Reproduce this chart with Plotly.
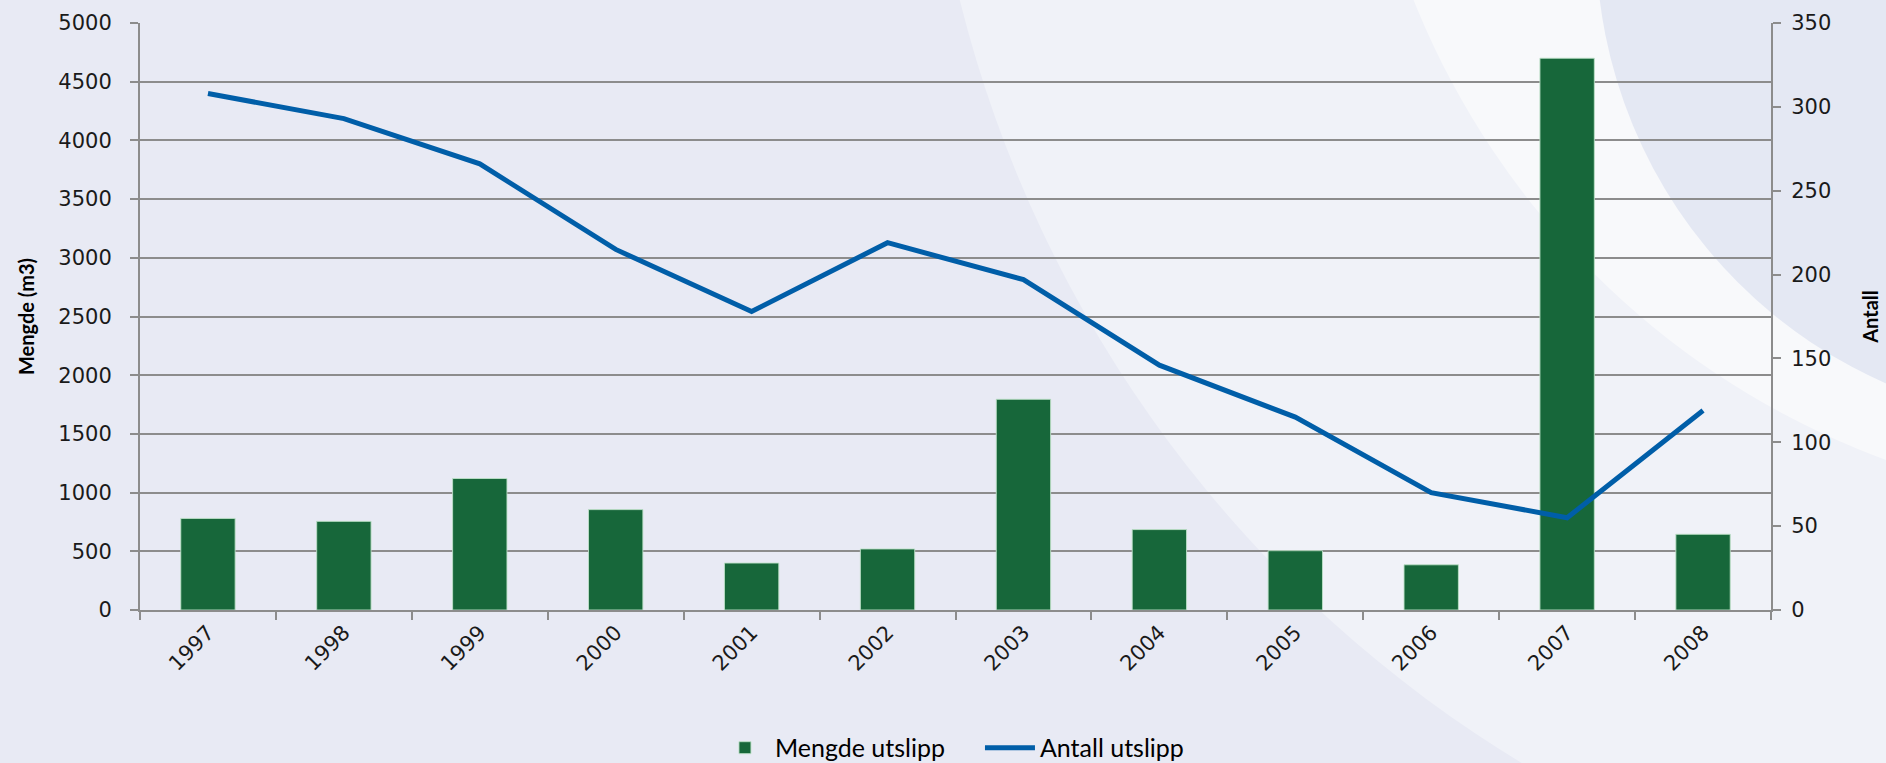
import plotly.graph_objects as go

years = ["1997", "1998", "1999", "2000", "2001", "2002", "2003", "2004", "2005", "2006", "2007", "2008"]
mengde = [780, 755, 1120, 855, 400, 520, 1795, 685, 505, 385, 4700, 645]
antall = [308, 293, 266, 215, 178, 219, 197, 146, 115, 70, 55, 119]

W, H = 1886, 763
ML, MR, MT, MB = 140, 115, 23, 153
PW, PH = W - ML - MR, H - MT - MB


def px(x):
    return (x - ML) / PW


def py(y):
    return (H - MB - y) / PH


def circle(cx, cy, r, color, opacity=1.0):
    return dict(type="circle", xref="paper", yref="paper", layer="below",
                x0=px(cx - r), x1=px(cx + r), y0=py(cy + r), y1=py(cy - r),
                fillcolor=color, opacity=opacity, line=dict(width=0))


fig = go.Figure()
fig.add_trace(go.Bar(
    x=years, y=mengde, name="Mengde utslipp", width=0.4,
    marker=dict(color="#17673a", line=dict(color="rgba(190,225,200,0.9)", width=1)),
    yaxis="y",
))
fig.add_trace(go.Scatter(
    x=years, y=antall, name="Antall utslipp", mode="lines",
    line=dict(color="#005ea8", width=5),
    yaxis="y2",
))

tickfont = dict(family="DejaVu Sans, Verdana, sans-serif", size=21, color="#1a1a1a")
titlefont = dict(family="Lato, sans-serif", size=20, color="#000000", weight="bold")

shapes = [
    circle(2166, -300, 1243, "#f0f2f8"),
    circle(2166, -300, 810, "#f8f9fb"),
    circle(2080, -60, 484, "#e4e8f3"),
]

fig.update_layout(
    width=W, height=H,
    margin=dict(l=ML, r=MR, t=MT, b=MB, autoexpand=False),
    paper_bgcolor="#e8eaf4",
    plot_bgcolor="rgba(0,0,0,0)",
    shapes=shapes,
    showlegend=True,
    legend=dict(orientation="h", x=0.515, xanchor="center", y=-0.235, yanchor="middle",
                font=dict(family="Lato, sans-serif", size=25, color="#000"),
                bgcolor="rgba(0,0,0,0)", itemwidth=50, entrywidth=200, tracegroupgap=0),
    xaxis=dict(
        type="category", tickangle=-45, tickfont=tickfont, automargin=False,
        showline=True, linecolor="#8c8c8c", linewidth=2,
        ticks="outside", ticklen=8, tickcolor="#8c8c8c", tickwidth=2,
        tickson="boundaries", showgrid=False,
    ),
    yaxis=dict(
        range=[0, 5000], dtick=500, tickfont=tickfont, automargin=False,
        showline=True, linecolor="#8c8c8c", linewidth=2,
        ticks="outside", ticklen=8, tickcolor="#8c8c8c", tickwidth=2, ticklabelstandoff=14,
        showgrid=True, gridcolor="#8c8c8c", gridwidth=1.6, zeroline=False,
        title=dict(text="Mengde (m3)", font=titlefont, standoff=18),
    ),
    yaxis2=dict(
        range=[0, 350], dtick=50, tickfont=tickfont, overlaying="y", side="right",
        automargin=False,
        showline=True, linecolor="#8c8c8c", linewidth=2,
        ticks="outside", ticklen=8, tickcolor="#8c8c8c", tickwidth=2, ticklabelstandoff=6,
        showgrid=False, zeroline=False,
        title=dict(text="Antall", font=titlefont, standoff=34),
    ),
)

fig.write_html("out.html", config={"displayModeBar": False},
               post_script="document.body.style.margin='0';document.body.style.overflow='hidden';")
